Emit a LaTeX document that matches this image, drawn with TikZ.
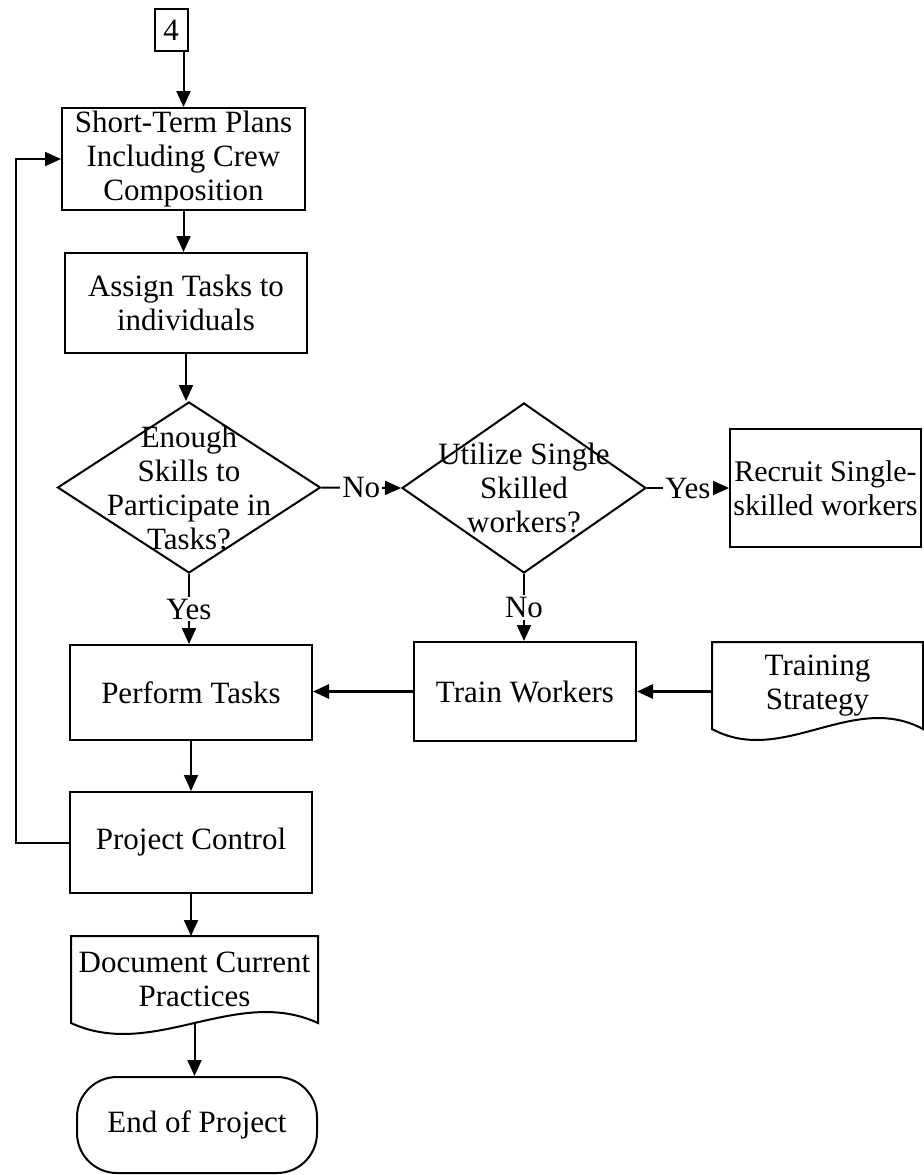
\documentclass[tikz,border=0pt]{standalone}
\usepackage{fontspec}
\setmainfont{Liberation Serif}
\usetikzlibrary{shapes.geometric,arrows.meta,calc}

\begin{document}
\begin{tikzpicture}[x=0.5pt,y=-0.5pt,
		font=\fontsize{15.5}{17}\selectfont,
		line width=1pt,
		>={Triangle[length=8pt,width=7pt]},
		box/.style={draw,rectangle,align=center,inner sep=0pt},
		decision/.style={draw,diamond,inner sep=0pt},
		docbox/.style={rectangle,align=center,inner sep=0pt},
		endbox/.style={draw,rectangle,rounded corners=20pt,align=center,inner sep=0pt},
		lbl/.style={fill=white,inner sep=1pt}]
		\useasboundingbox (0,0) rectangle (923,1175);
		% main column
		\node[box,minimum width=16.5pt,minimum height=21pt] (four) at (171,30) {4};
		\node[box,minimum width=121.5pt,minimum height=51pt] (sht) at (183.5,159) {Short-Term Plans\\Including Crew\\Composition};
		\node[box,minimum width=121pt,minimum height=50pt] (assign) at (186,303) {Assign Tasks to\\individuals};
		\node[decision,minimum width=131.5pt,minimum height=85.5pt,label={[align=center]center:Enough\\Skills to\\Participate in\\Tasks?}] (d1) at (189,487.5) {};
		\node[box,minimum width=121pt,minimum height=47.5pt] (perform) at (191,692.5) {Perform Tasks};
		\node[box,minimum width=121pt,minimum height=50.5pt] (control) at (191,842.5) {Project Control};
		\node[docbox,minimum width=122.5pt,minimum height=42.5pt] (docp) at (194.5,979.5) {Document Current\\Practices};
		\node[endbox,minimum width=120pt,minimum height=48pt] (endp) at (197,1125) {End of Project};
		% right side
		\node[decision,minimum width=122pt,minimum height=85pt,label={[align=center]center:Utilize Single\\Skilled\\workers?}] (d2) at (524,488) {};
		\node[box,minimum width=95.5pt,minimum height=59pt,font=\fontsize{15}{17}\selectfont] (recruit) at (825.5,488) {Recruit Single-\\skilled workers};
		\node[box,minimum width=111pt,minimum height=49.5pt] (train) at (525,691.5) {Train Workers};
		\node[docbox,minimum width=104.5pt,minimum height=42.5pt] (strat) at (817.5,685.5) {Training\\Strategy};
		% document outlines
		\foreach \n in {strat,docp}
			\draw (\n.south east) -- (\n.north east) -- (\n.north west) -- (\n.south west)
				.. controls ($(\n.south west)!1/3!(\n.south east)+(0,38)$) and ($(\n.south west)!2/3!(\n.south east)+(0,-38)$) .. cycle;
		% connectors
		\draw[->] (four.south -| sht.north) -- (sht.north);
		\draw[->] (sht.south) -- (sht.south |- assign.north);
		\draw[->] (assign.south) -- (assign.south |- d1.north);
		\draw[->] (d1.south) -- (d1.south |- perform.north) node[lbl,midway] {Yes};
		\draw[->] (d1.east) -- (d2.west) node[lbl,midway] {No};
		\draw[->] (d2.east) -- (d2.east -| recruit.west) node[lbl,midway] {Yes};
		\draw[->] (d2.south) -- (d2.south |- train.north) node[lbl,midway] {No};
		\draw[->,line width=1.5pt] (train.east -| strat.west) -- (train.east);
		\draw[->,line width=1.5pt] (train.west) -- (train.west -| perform.east);
		\draw[->] (perform.south) -- (perform.south |- control.north);
		\draw[->] (control.south) -- (control.south |- docp.north);
		\draw[->] (docp.south) -- (docp.south |- endp.north);
		\draw[->] (control.west) -- ++(-53,0) |- (sht.west);
\end{tikzpicture}
\end{document}
